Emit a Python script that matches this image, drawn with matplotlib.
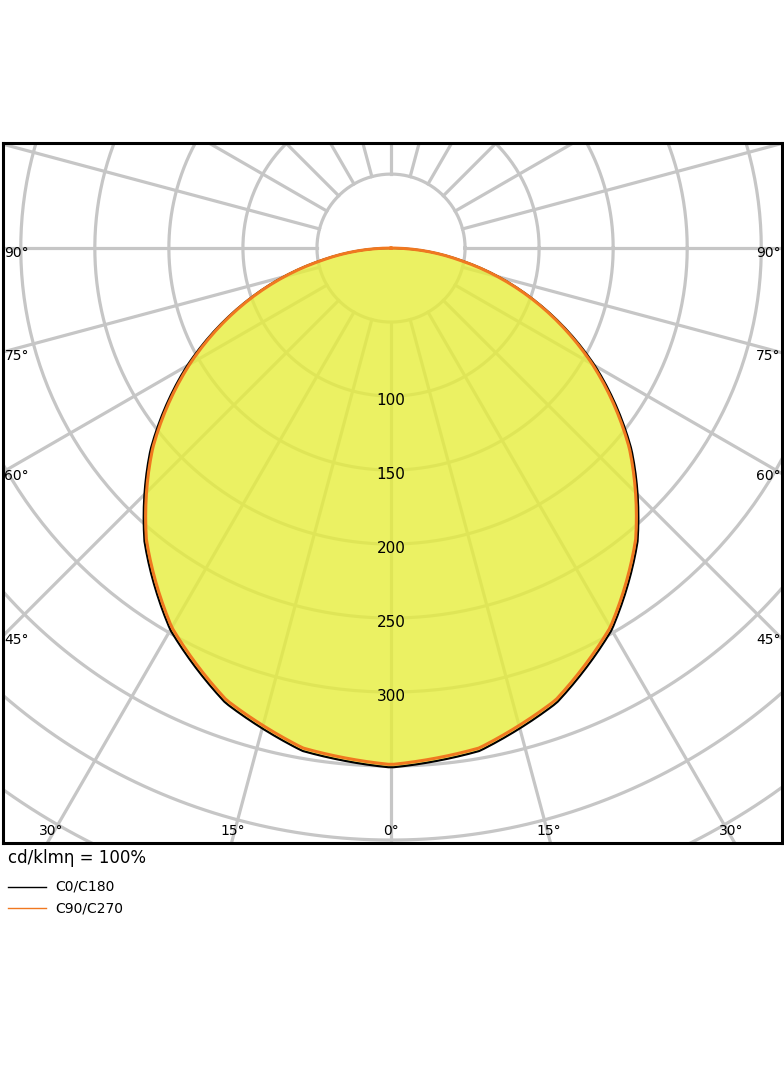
import numpy as np
import matplotlib.pyplot as plt

# luminous intensity (cd/klm) vs gamma angle, 0 = straight down
angles = [0, 10, 20, 30, 40, 50, 60, 70, 80, 90]
c0_c180 = [351, 345, 327, 298, 259, 212, 159, 103, 48, 0]
c90_c270 = [349, 343, 325, 296, 257, 210, 157, 102, 47, 0]
ring_labels = [100, 150, 200, 250, 300]
side_angles = [45, 60, 75, 90]
bottom_angles = [30, 15, 0, 15, 30]

fig = plt.figure(figsize=(7.84, 10.66), dpi=100)
ax = fig.add_axes([3 / 784, 223 / 1066, 779 / 784, 700 / 1066])
XL, XR, YT, YB = -262, 264, 71, -402
ax.set_xlim(XL, XR)
ax.set_ylim(YB, YT)
ax.set_xticks([])
ax.set_yticks([])
for s in ax.spines.values():
    s.set_linewidth(2.2)
    s.set_zorder(10)

grid = '#c6c6c6'
t = np.linspace(0, 2 * np.pi, 400)
for r in range(50, 650, 50):
    ax.plot(r * np.cos(t), r * np.sin(t), color=grid, lw=2.3, zorder=1)
for a in range(0, 360, 15):
    ar = np.radians(a)
    ax.plot([50 * np.sin(ar), 700 * np.sin(ar)], [-50 * np.cos(ar), -700 * np.cos(ar)],
            color=grid, lw=2.3, zorder=1)


def curve(vals):
    g = np.radians(angles)
    v = np.array(vals, float)
    gg = np.concatenate([-g[::-1], g[1:]])
    vv = np.concatenate([v[::-1], v[1:]])
    fine = np.linspace(gg[0], gg[-1], 300)
    rv = np.interp(fine, gg, vv)
    return rv * np.sin(fine), -rv * np.cos(fine)


x0, y0 = curve(c0_c180)
x9, y9 = curve(c90_c270)
ax.fill(x0, y0, color='#e6ee3c', alpha=0.8, zorder=2, lw=0)
ax.plot(x0, y0, color='black', lw=1.5, zorder=3)
ax.plot(x9, y9, color='#f07820', lw=2.2, zorder=4)

for v in ring_labels:
    ax.text(0, -v - 3, str(v), ha='center', va='center', fontsize=11, zorder=5)

for a in side_angles:
    dy = 262 / np.tan(np.radians(a)) if a != 90 else 0
    ax.text(XL + 1, -dy - 3, f'{a}°', ha='left', va='center', fontsize=10, zorder=5)
    ax.text(XR - 1, -dy - 3, f'{a}°', ha='right', va='center', fontsize=10, zorder=5)

for i, a in enumerate(bottom_angles):
    sign = -1 if i < 2 else 1
    dx = sign * 402 * np.tan(np.radians(a)) * 0.99
    ax.text(dx, YB + 8, f'{a}°', ha='center', va='center', fontsize=10, zorder=5)

fig.text(8 / 784, 1 - 858 / 1066, 'cd/klmη = 100%', fontsize=12, va='center')
for yy, col, lab in [(887, 'black', 'C0/C180'), (908, '#f07820', 'C90/C270')]:
    fy = 1 - yy / 1066
    fig.add_artist(plt.Line2D([8 / 784, 46 / 784], [fy, fy], color=col, lw=1))
    fig.text(55 / 784, fy, lab, fontsize=10, va='center')

fig.savefig('out.png', dpi=100)
